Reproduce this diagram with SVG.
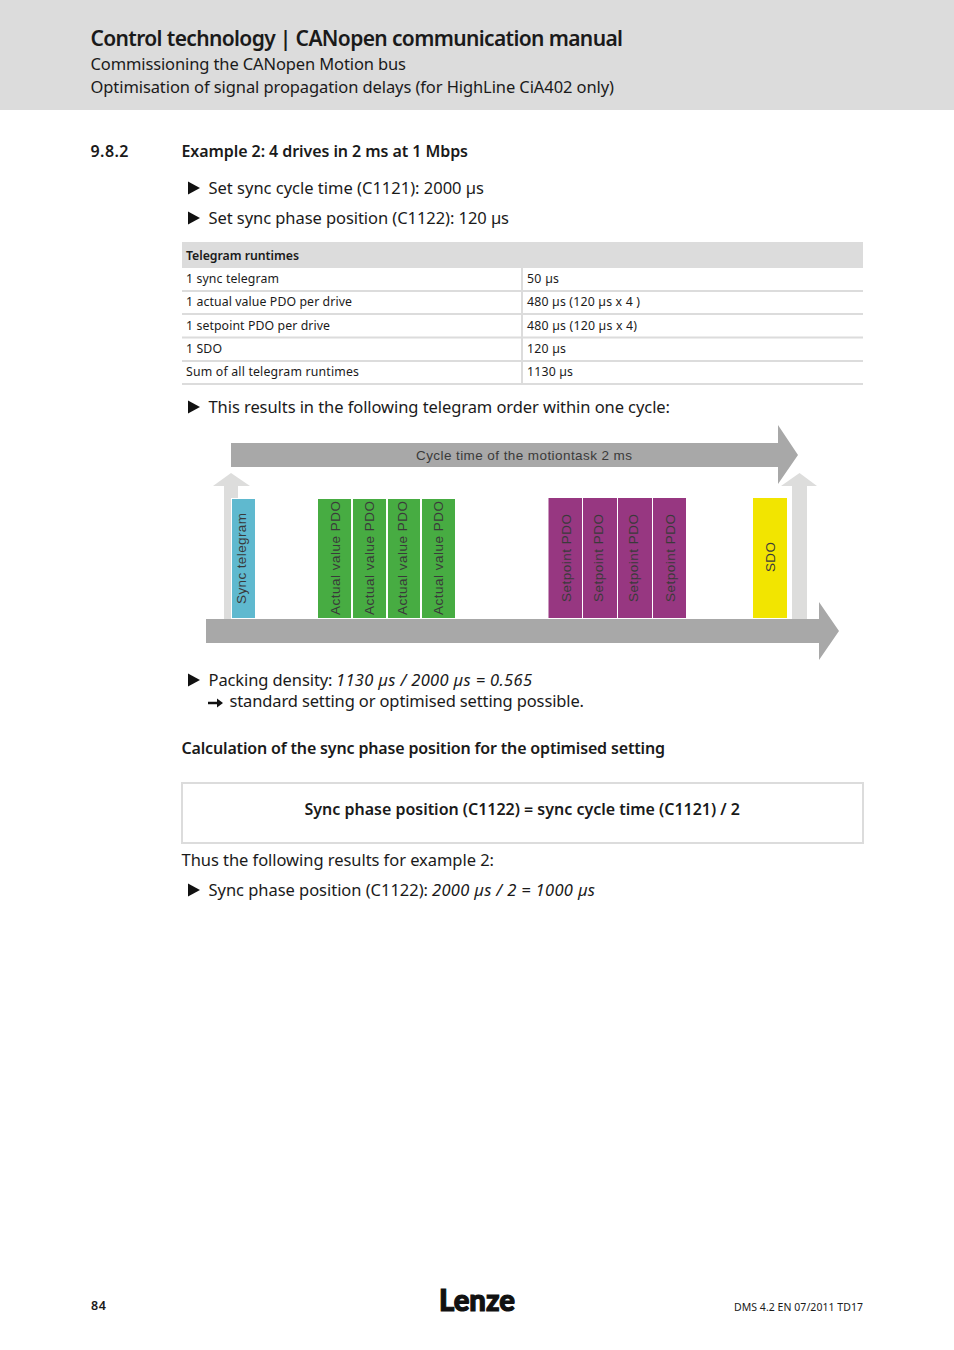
<svg xmlns="http://www.w3.org/2000/svg" width="954" height="1350" viewBox="0 0 954 1350">
<style>
text{font-family:"Noto Sans","Open Sans","Liberation Sans",sans-serif;fill:#1a1a1a}
.b{font-weight:600}
.body{font-size:16.5px}
.cell{font-size:12.3px}
.it{font-style:italic}
.d{font-family:"Liberation Sans",Arial,sans-serif;font-size:13.5px;fill:#3a3a3a}
.bar{fill:#a8a8a8}
.up{fill:#dddddc}
.blue{fill:#5fb9cf}.green{fill:#47ac42}.purple{fill:#973781}.yellow{fill:#f2e500}
.rule{stroke:#dcdcdc;stroke-width:2;fill:none}
.tri{fill:#111}
</style>
<defs><path id="tri" class="tri" d="M0 -6.5L12 0L0 6.5Z"/></defs>
<rect width="954" height="110" fill="#dcdcdc"/>
<text x="90.500" y="46" class="b" font-size="21" textLength="532.500" lengthAdjust="spacing">Control technology | CANopen communication manual</text>
<text x="90.500" y="70" class="body" textLength="315.500" lengthAdjust="spacing">Commissioning the CANopen Motion bus</text>
<text x="90.500" y="93" class="body" textLength="523.500" lengthAdjust="spacing">Optimisation of signal propagation delays (for HighLine CiA402 only)</text>
<text x="90.500" y="157" class="b" font-size="16" textLength="38" lengthAdjust="spacing">9.8.2</text>
<text x="181.500" y="157" class="b" font-size="16" textLength="286.500" lengthAdjust="spacing">Example 2: 4 drives in 2 ms at 1 Mbps</text>
<use href="#tri" x="188" y="188"/>
<text x="208.500" y="194" class="body" textLength="275.500" lengthAdjust="spacing">Set sync cycle time (C1121): 2000 µs</text>
<use href="#tri" x="188" y="218"/>
<text x="208.500" y="224" class="body" textLength="300.500" lengthAdjust="spacing">Set sync phase position (C1122): 120 µs</text>

<g id="table">
<rect x="182" y="242" width="681" height="26" fill="#dcdcdc"/>
<path class="rule" d="M182 291H863M182 314H863M182 337.500H863M182 361H863M182 384H863M522 268V384"/>
<text x="186" y="260" class="b cell" textLength="113" lengthAdjust="spacing">Telegram runtimes</text>
<text x="186" y="283" class="cell" textLength="93" lengthAdjust="spacing">1 sync telegram</text>
<text x="186" y="306" class="cell" textLength="166" lengthAdjust="spacing">1 actual value PDO per drive</text>
<text x="186" y="330" class="cell" textLength="144" lengthAdjust="spacing">1 setpoint PDO per drive</text>
<text x="186" y="353" class="cell" textLength="36" lengthAdjust="spacing">1 SDO</text>
<text x="186" y="376" class="cell" textLength="173" lengthAdjust="spacing">Sum of all telegram runtimes</text>
<text x="527" y="283" class="cell" textLength="32" lengthAdjust="spacing">50 µs</text>
<text x="527" y="306" class="cell" textLength="113" lengthAdjust="spacing">480 µs (120 µs x 4 )</text>
<text x="527" y="330" class="cell" textLength="110" lengthAdjust="spacing">480 µs (120 µs x 4)</text>
<text x="527" y="353" class="cell" textLength="39" lengthAdjust="spacing">120 µs</text>
<text x="527" y="376" class="cell" textLength="46" lengthAdjust="spacing">1130 µs</text>
</g>

<use href="#tri" x="188" y="407"/>
<text x="208.500" y="413" class="body" textLength="461.500" lengthAdjust="spacing">This results in the following telegram order within one cycle:</text>

<g id="connectors">
<path id="sync-up" class="up" d="M224 619V486H213L231 473L250 486H238V619Z"/>
<path id="sdo-up" class="up" d="M792 619V486H781L799.500 473L817 486H807V619Z"/>
<path id="cycle-arrow" class="bar" d="M231 443H778V425L798 455L778 484V467H231Z"/>
<path id="time-arrow" class="bar" d="M206 619H819V602L839 631L819 660V643H206Z"/>
</g>
<text x="416" y="460" class="d" textLength="216" lengthAdjust="spacing">Cycle time of the motiontask 2 ms</text>

<g id="sync">
<rect x="231" y="498" width="25" height="121" fill="#fff"/>
<rect class="blue" x="232" y="499" width="23" height="119"/>
<text class="d" transform="translate(246 604) rotate(-90)" textLength="91" lengthAdjust="spacing">Sync telegram</text></g>
<g id="actual-1"><rect class="green" x="318" y="499" width="33" height="119"/><text class="d" transform="translate(339.500 615) rotate(-90)" textLength="114" lengthAdjust="spacing">Actual value PDO</text></g>
<g id="actual-2"><rect class="green" x="353" y="499" width="33" height="119"/><text class="d" transform="translate(374 615) rotate(-90)" textLength="114" lengthAdjust="spacing">Actual value PDO</text></g>
<g id="actual-3"><rect class="green" x="388" y="499" width="32" height="119"/><text class="d" transform="translate(407 615) rotate(-90)" textLength="114" lengthAdjust="spacing">Actual value PDO</text></g>
<g id="actual-4"><rect class="green" x="422" y="499" width="33" height="119"/><text class="d" transform="translate(443 615) rotate(-90)" textLength="114" lengthAdjust="spacing">Actual value PDO</text></g>
<g id="setpoint-1"><rect class="purple" x="548.500" y="498" width="33.500" height="120"/><text class="d" transform="translate(571 602) rotate(-90)" textLength="88" lengthAdjust="spacing">Setpoint PDO</text></g>
<g id="setpoint-2"><rect class="purple" x="583" y="498" width="34" height="120"/><text class="d" transform="translate(603 602) rotate(-90)" textLength="88" lengthAdjust="spacing">Setpoint PDO</text></g>
<g id="setpoint-3"><rect class="purple" x="618" y="498" width="34" height="120"/><text class="d" transform="translate(638 602) rotate(-90)" textLength="88" lengthAdjust="spacing">Setpoint PDO</text></g>
<g id="setpoint-4"><rect class="purple" x="653" y="498" width="33" height="120"/><text class="d" transform="translate(675 602) rotate(-90)" textLength="88" lengthAdjust="spacing">Setpoint PDO</text></g>
<g id="sdo"><rect class="yellow" x="753" y="498" width="34" height="120"/><text class="d" transform="translate(775 572) rotate(-90)" textLength="30" lengthAdjust="spacing">SDO</text></g>

<use href="#tri" x="188" y="680"/>
<text x="208.500" y="686" class="body" textLength="124" lengthAdjust="spacing">Packing density:</text>
<text x="336" y="686" class="body it" textLength="196" lengthAdjust="spacing">1130 µs / 2000 µs = 0.565</text>
<path d="M208 703H220" stroke="#111" stroke-width="2.500" fill="none"/><path class="tri" d="M217 698.500L223 703L217 707.500Z"/>
<text x="229.500" y="707" class="body" textLength="354.500" lengthAdjust="spacing">standard setting or optimised setting possible.</text>
<text x="181.500" y="754" class="b" font-size="16" textLength="483.500" lengthAdjust="spacing">Calculation of the sync phase position for the optimised setting</text>
<g id="formula">
<rect class="rule" x="182" y="783" width="681" height="60"/>
<text x="304.500" y="815" class="b" font-size="16" textLength="435.500" lengthAdjust="spacing">Sync phase position (C1122) = sync cycle time (C1121) / 2</text>
</g>
<text x="181.500" y="866" class="body" textLength="312.500" lengthAdjust="spacing">Thus the following results for example 2:</text>
<use href="#tri" x="188" y="890"/>
<text x="208.500" y="896" class="body" textLength="219.500" lengthAdjust="spacing">Sync phase position (C1122):</text>
<text x="432" y="896" class="body it" textLength="163" lengthAdjust="spacing">2000 µs / 2 = 1000 µs</text>

<text x="91" y="1310" class="b" font-size="12.500" textLength="15" lengthAdjust="spacing">84</text>
<text x="439" y="1311" font-size="31" font-weight="900" stroke="#111" stroke-width="1.200" style="font-family:Lato,'Noto Sans',sans-serif;fill:#111" textLength="76" lengthAdjust="spacingAndGlyphs">Lenze</text>
<text x="734" y="1311" font-size="10.500" textLength="129" lengthAdjust="spacing">DMS 4.2 EN 07/2011 TD17</text>
</svg>
